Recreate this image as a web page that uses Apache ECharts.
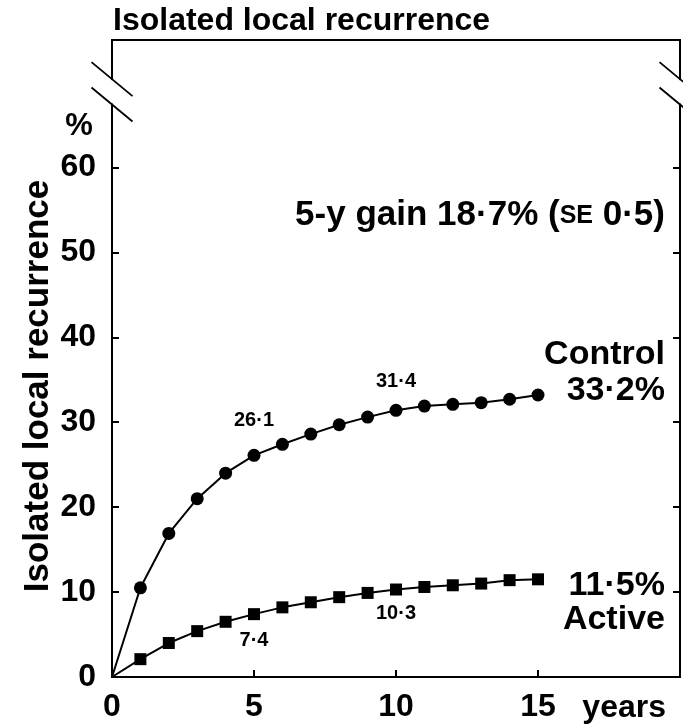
<!DOCTYPE html>
<html>
<head>
<meta charset="utf-8">
<script src="https://cdn.jsdelivr.net/npm/echarts@6/dist/echarts.min.js"></script>
<style>
  html, body { margin: 0; padding: 0; background: #fff; }
  #chart { width: 683px; height: 728px; }
</style>
</head>
<body>
<div id="chart"></div>
<script>
const years = [0, 1, 2, 3, 4, 5, 6, 7, 8, 9, 10, 11, 12, 13, 14, 15];
const control = [0, 10.5, 16.9, 21.0, 24.0, 26.1, 27.4, 28.6, 29.7, 30.6, 31.4, 31.9, 32.1, 32.3, 32.7, 33.2];
const active = [0, 2.1, 4.0, 5.4, 6.5, 7.4, 8.2, 8.8, 9.4, 9.9, 10.3, 10.6, 10.8, 11.0, 11.4, 11.5];
const labelYears = [5, 10];
const xTicks = [0, 5, 10, 15];
const yTicks = [0, 10, 20, 30, 40, 50, 60];
const gainSE = 0.5;

const FONT = 'Liberation Sans';
const fmt = v => v.toFixed(1).replace('.', '\u00b7');

const chart = echarts.init(document.getElementById('chart'));

function buildData(vals, labelDist, pos) {
  return years.map((yr, i) => {
    const item = { value: [yr, vals[i]] };
    if (i === 0) item.symbol = 'none';
    if (labelYears.indexOf(yr) >= 0) {
      item.label = {
        show: true,
        position: pos,
        distance: labelDist[labelYears.indexOf(yr)],
        formatter: fmt(vals[i]),
        fontFamily: FONT,
        fontWeight: 'bold',
        fontSize: 20,
        color: '#000'
      };
    }
    return item;
  });
}

const axisCommon = {
  type: 'value',
  axisLine: { show: true, lineStyle: { color: '#000', width: 2 } },
  axisTick: { show: true, inside: true, length: 7, lineStyle: { color: '#000', width: 2 } },
  splitLine: { show: false }
};

chart.setOption({
  animation: false,
  backgroundColor: '#fff',
  grid: {
    left: 112, right: 3, top: 40, bottom: 51,
    show: true, borderColor: '#000', borderWidth: 2
  },
  xAxis: Object.assign({}, axisCommon, {
    min: 0, max: 20, interval: 5,
    axisLabel: {
      customValues: xTicks,
      margin: 14,
      fontFamily: FONT, fontWeight: 'bold', fontSize: 32, color: '#000'
    },
    axisTick: Object.assign({}, axisCommon.axisTick, { customValues: xTicks })
  }),
  yAxis: [
    Object.assign({}, axisCommon, {
      min: 0, max: 75,
      axisLabel: {
        customValues: yTicks,
        margin: 16,
        fontFamily: FONT, fontWeight: 'bold', fontSize: 32, color: '#000'
      },
      axisTick: Object.assign({}, axisCommon.axisTick, { customValues: yTicks })
    }),
    Object.assign({}, axisCommon, {
      min: 0, max: 75,
      position: 'right',
      axisLabel: { show: false },
      axisTick: Object.assign({}, axisCommon.axisTick, { customValues: yTicks })
    })
  ],
  series: [
    {
      name: 'Control',
      type: 'line',
      symbol: 'circle',
      symbolSize: 13,
      lineStyle: { color: '#000', width: 2 },
      itemStyle: { color: '#000' },
      data: buildData(control, [18, 12], 'top')
    },
    {
      name: 'Active',
      type: 'line',
      symbol: 'rect',
      symbolSize: 12,
      lineStyle: { color: '#000', width: 2 },
      itemStyle: { color: '#000' },
      data: buildData(active, [10, 8], 'bottom')
    }
  ]
});

// annotations placed through the chart's own scales
const px = (x, y) => chart.convertToPixel({ gridIndex: 0 }, [x, y]);
const last = years.length - 1;
const i5 = years.indexOf(5);
const gain = control[i5] - active[i5];
const txt = (x, y, text, size) => ({
  type: 'text', x: x, y: y, z: 50,
  style: {
    text: text, fill: '#000', font: 'bold ' + (size || 34) + 'px "' + FONT + '"',
    textAlign: 'right', textVerticalAlign: 'middle'
  }
});

const edgeYear = 19.47;
const gainPos = px(edgeYear, 54.3);
const ctrlPos = px(edgeYear, 38.0);
const ctrlPos2 = px(edgeYear, 33.7);
const actPos = px(edgeYear, 10.7);
const actPos2 = px(edgeYear, 6.8);

const leftX = px(0, 0)[0];
const rightX = px(20, 0)[0];
const breakY1 = px(0, 70.4)[1];
const breakY2 = px(0, 67.4)[1];

function breakMarks(ax) {
  return [
    { type: 'rect', z: 60, shape: { x: ax - 4, y: breakY1 + 1, width: 8, height: breakY2 - breakY1 - 2 }, style: { fill: '#fff' } },
    { type: 'line', z: 61, shape: { x1: ax - 20.5, y1: breakY1 - 17, x2: ax + 20.5, y2: breakY1 + 17 }, style: { stroke: '#000', lineWidth: 1.8 } },
    { type: 'line', z: 61, shape: { x1: ax - 20.5, y1: breakY2 - 17, x2: ax + 20.5, y2: breakY2 + 17 }, style: { stroke: '#000', lineWidth: 1.8 } }
  ];
}

chart.setOption({
  graphic: [
    { type: 'text', x: 113, y: 21, z: 50,
      style: { text: 'Isolated local recurrence', fill: '#000', font: 'bold 32px "' + FONT + '"', textVerticalAlign: 'middle' } },
    { type: 'text', x: 79, y: 126, z: 50,
      style: { text: '%', fill: '#000', font: 'bold 31px "' + FONT + '"', textAlign: 'center', textVerticalAlign: 'middle' } },
    { type: 'text', x: 38, y: 386, rotation: Math.PI / 2, z: 50,
      style: { text: 'Isolated local recurrence', fill: '#000', font: 'bold 35px "' + FONT + '"', textAlign: 'center', textVerticalAlign: 'middle' } },
    { type: 'text', x: 666, y: px(0, 0)[1] + 31, z: 50,
      style: { text: 'years', fill: '#000', font: 'bold 32px "' + FONT + '"', textAlign: 'right', textVerticalAlign: 'middle' } },
    {
      type: 'text', x: gainPos[0], y: gainPos[1], z: 50,
      style: {
        text: '{a|5-y gain ' + fmt(gain) + '% (}{s|SE}{a| ' + fmt(gainSE) + ')}',
        textAlign: 'right', textVerticalAlign: 'middle',
        rich: {
          a: { fontFamily: FONT, fontWeight: 'bold', fontSize: 35, fill: '#000' },
          s: { fontFamily: FONT, fontWeight: 'bold', fontSize: 25, fill: '#000' }
        }
      }
    },
    txt(ctrlPos[0], ctrlPos[1], 'Control'),
    txt(ctrlPos2[0], ctrlPos2[1], fmt(control[last]) + '%'),
    txt(actPos[0], actPos[1], fmt(active[last]) + '%'),
    txt(actPos2[0], actPos2[1], 'Active')
  ].concat(breakMarks(leftX), breakMarks(rightX))
});

window.addEventListener('resize', () => {
  chart.resize();
});
</script>
</body>
</html>
